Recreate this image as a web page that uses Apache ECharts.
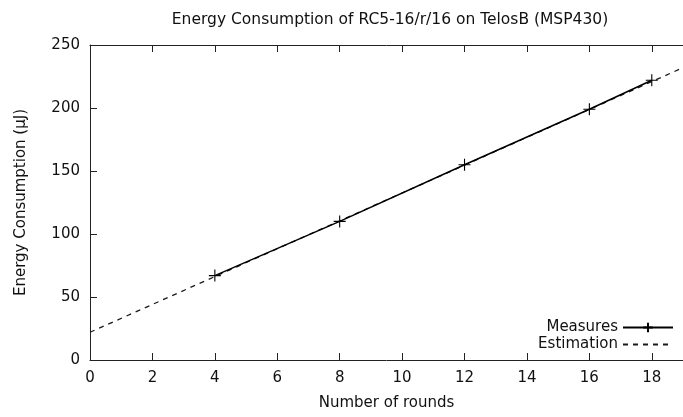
<!DOCTYPE html>
<html>
<head>
<meta charset="utf-8">
<script src="https://cdn.jsdelivr.net/npm/echarts@6/dist/echarts.min.js"></script>
<style>html,body{margin:0;padding:0;background:#fff}#c{width:683px;height:417px}</style>
</head>
<body>
<div id="c"></div>
<script>
const measureRounds = [4, 8, 12, 16, 18];
const measureValues = [67, 110, 155, 199, 222];
const estimationRounds = [0, 19];
const estimationValues = [22, 232];
const xTickInterval = 2;
const yTicks = [0, 50, 100, 150, 200, 250];

const FONT = 'DejaVu Sans';
const TXT = '#111';
const cross = 'path://M0,6L12,6M6,0L6,12';

const chart = echarts.init(document.getElementById('c'), null, {renderer: 'canvas'});
const axisCommon = {
  axisLine: {show: true, lineStyle: {color: '#222', width: 1}},
  axisTick: {show: true, inside: true, length: 7, lineStyle: {color: '#222', width: 1}},
  splitLine: {show: false}
};
chart.setOption({
  animation: false,
  backgroundColor: '#fff',
  title: {
    text: 'Energy Consumption of RC5-16/r/16 on TelosB (MSP430)',
    left: 385, top: 7, textAlign: 'center',
    textStyle: {fontFamily: FONT, fontSize: 15.5, fontWeight: 'normal', color: TXT}
  },
  legend: {
    orient: 'vertical', align: 'right', right: 9, bottom: 65,
    itemWidth: 50, itemHeight: 12, itemGap: 2, padding: 0,
    textStyle: {fontFamily: FONT, fontSize: 15, color: TXT},
    data: [
      'Measures',
      {name: 'Estimation', itemStyle: {opacity: 0, color: 'transparent', borderWidth: 0}}
    ]
  },
  grid: {left: 90, right: -10, top: 45, bottom: 57, containLabel: false},
  xAxis: [
    Object.assign({}, axisCommon, {
      type: 'value', min: 0, max: 19, interval: xTickInterval,
      name: 'Number of rounds', nameLocation: 'middle', nameGap: 36,
      nameTextStyle: {fontFamily: FONT, fontSize: 15, color: TXT},
      axisLabel: {fontFamily: FONT, fontSize: 15, color: TXT, margin: 11, showMaxLabel: false}
    }),
    Object.assign({}, axisCommon, {
      type: 'value', min: 0, max: 19, interval: xTickInterval, position: 'top',
      axisLabel: {show: false}
    })
  ],
  yAxis: [
    Object.assign({}, axisCommon, {
      type: 'value', min: yTicks[0], max: yTicks[yTicks.length - 1], interval: yTicks[1] - yTicks[0],
      name: 'Energy Consumption (µJ)', nameLocation: 'middle', nameGap: 61,
      nameTextStyle: {fontFamily: FONT, fontSize: 15, color: TXT},
      axisLabel: {fontFamily: FONT, fontSize: 15, color: TXT, margin: 10}
    })
  ],
  series: [
    {
      name: 'Estimation', type: 'line', xAxisIndex: 0,
      data: estimationRounds.map((r, i) => [r, estimationValues[i]]),
      symbol: 'none', z: 2,
      lineStyle: {color: '#1a1a1a', width: 1.3, type: [5, 5]},
      itemStyle: {color: '#1a1a1a'}
    },
    {
      name: 'Measures', type: 'line', xAxisIndex: 0,
      data: measureRounds.map((r, i) => [r, measureValues[i]]),
      symbol: cross, symbolSize: 12, showSymbol: true, z: 3,
      lineStyle: {color: '#000', width: 1.5},
      itemStyle: {color: '#000', borderColor: '#000', borderWidth: 1.1}
    }
  ]
});
</script>
</body>
</html>
